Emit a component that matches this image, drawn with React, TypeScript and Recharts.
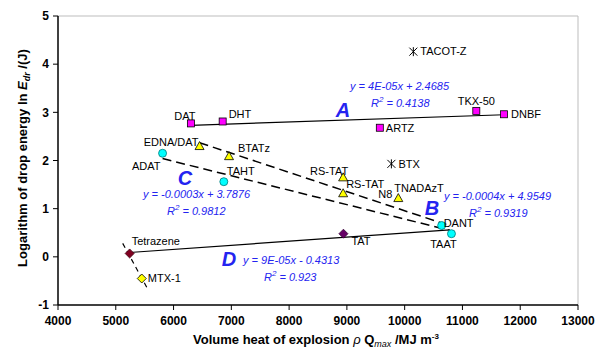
import { Customized, Scatter, ScatterChart, XAxis, YAxis } from "recharts"

// group A (magenta squares)
const squares = [
  { id: "DAT", labels: ["DAT"], x: 6300, y: 2.77 },
  { id: "DHT", labels: ["DHT"], x: 6850, y: 2.81 },
  { id: "ARTZ", labels: ["ARTZ"], x: 9570, y: 2.68 },
  { id: "TKX-50", labels: ["TKX-50"], x: 11240, y: 3.03 },
  { id: "DNBF", labels: ["DNBF"], x: 11720, y: 2.96 },
]

const stars = [
  { id: "TACOT-Z", labels: ["TACOT-Z"], x: 10150, y: 4.26 },
  { id: "BTX", labels: ["BTX"], x: 9770, y: 1.93 },
]

// group B (yellow triangles)
const triangles = [
  { id: "EDNA/DAT", labels: ["EDNA/DAT"], x: 6450, y: 2.3 },
  { id: "BTATz", labels: ["BTATz"], x: 6960, y: 2.09 },
  { id: "RS-TAT-1", labels: ["RS-TAT"], x: 8935, y: 1.65 },
  { id: "RS-TAT-2", labels: ["RS-TAT"], x: 8935, y: 1.32 },
  { id: "TNADAzT", labels: ["TNADAzT", "N8"], x: 9890, y: 1.22 },
]

// group C (cyan circles)
const circles = [
  { id: "ADAT", labels: ["ADAT"], x: 5810, y: 2.15 },
  { id: "TAHT", labels: ["TAHT"], x: 6870, y: 1.56 },
  { id: "DANT", labels: ["DANT"], x: 10640, y: 0.65 },
  { id: "TAAT", labels: ["TAAT"], x: 10810, y: 0.48 },
]

// group D (diamonds)
const tetrazene = [{ id: "Tetrazene", labels: ["Tetrazene"], x: 5240, y: 0.07 }]
const tat = [{ id: "TAT", labels: ["TAT"], x: 8940, y: 0.48 }]
const mtx = [{ id: "MTX-1", labels: ["MTX-1"], x: 5450, y: -0.45 }]

// trend line end points
const trendA = [{ x: 6300, y: 2.73 }, { x: 11720, y: 2.95 }]
const trendB = [{ x: 6450, y: 2.37 }, { x: 10720, y: 0.67 }]
const trendC = [{ x: 5810, y: 2.04 }, { x: 10780, y: 0.55 }]
const trendD = [{ x: 5240, y: 0.09 }, { x: 10780, y: 0.56 }]
const trendE = [{ x: 5120, y: 0.28 }, { x: 5540, y: -0.64 }]

const xTicks = [4000, 5000, 6000, 7000, 8000, 9000, 10000, 11000, 12000, 13000]
const yTicks = [-1, 0, 1, 2, 3, 4, 5]

// label offsets from the marker centre: [dx, dy, anchor]
const labelPos: Record<string, [number, number, string][]> = {
  DAT: [[-6, -7, "middle"]],
  DHT: [[6, -7, "start"]],
  ARTZ: [[6, 0, "start"]],
  "TKX-50": [[0, -10, "middle"]],
  DNBF: [[7, 0, "start"]],
  "TACOT-Z": [[7, 0, "start"]],
  BTX: [[7, 0, "start"]],
  "EDNA/DAT": [[-1, -4, "end"]],
  BTATz: [[9, -8, "start"]],
  "RS-TAT-1": [[-14, -6, "middle"]],
  "RS-TAT-2": [[3, -9, "start"]],
  TNADAzT: [[-4, -10, "start"], [-6, -4, "end"]],
  ADAT: [[-2, 13, "end"]],
  TAHT: [[3, -11, "start"]],
  DANT: [[2, -2, "start"]],
  TAAT: [[-8, 10, "middle"]],
  TAT: [[8, 7, "start"]],
  Tetrazene: [[2, -12, "start"]],
  "MTX-1": [[6, 0, "start"]],
}

const FONT = "'Liberation Sans', Arial, sans-serif"
const BLUE = "#2424F0"

function labelsFor(p: any, cx: number, cy: number) {
  const pos = labelPos[p.id] || []
  return p.labels.map((t: string, i: number) => {
    const [dx, dy, anchor] = pos[i] || [6, 0, "start"]
    return (
      <text
        key={i}
        x={cx + dx}
        y={cy + dy}
        dy="0.35em"
        textAnchor={anchor as any}
        fontSize={11}
        fontFamily={FONT}
        fill="#000"
      >
        {t}
      </text>
    )
  })
}

const squareShape = (props: any) => {
  const { cx, cy, payload } = props
  return (
    <g>
      <rect x={cx - 3.5} y={cy - 3.5} width={7} height={7} fill="#FF00FF" stroke="#000" strokeWidth={0.8} />
      {labelsFor(payload, cx, cy)}
    </g>
  )
}

const starShape = (props: any) => {
  const { cx, cy, payload } = props
  return (
    <g>
      <path
        d={`M${cx},${cy - 4.5}L${cx},${cy + 4.5}M${cx - 4},${cy - 4}L${cx + 4},${cy + 4}M${cx + 4},${cy - 4}L${cx - 4},${cy + 4}`}
        stroke="#000"
        strokeWidth={1}
      />
      {labelsFor(payload, cx, cy)}
    </g>
  )
}

const triangleShape = (props: any) => {
  const { cx, cy, payload } = props
  return (
    <g>
      <path d={`M${cx},${cy - 4.5}L${cx + 4.5},${cy + 3.5}L${cx - 4.5},${cy + 3.5}Z`} fill="#FFFF00" stroke="#000" strokeWidth={0.8} />
      {labelsFor(payload, cx, cy)}
    </g>
  )
}

const circleShape = (props: any) => {
  const { cx, cy, payload } = props
  return (
    <g>
      <circle cx={cx} cy={cy} r={4} fill="#00FFFF" stroke="#007878" strokeWidth={0.8} />
      {labelsFor(payload, cx, cy)}
    </g>
  )
}

const diamondShape = (fill: string, stroke: string) => (props: any) => {
  const { cx, cy, payload } = props
  return (
    <g>
      <path d={`M${cx},${cy - 4.5}L${cx + 4.5},${cy}L${cx},${cy + 4.5}L${cx - 4.5},${cy}Z`} fill={fill} stroke={stroke} strokeWidth={0.8} />
      {labelsFor(payload, cx, cy)}
    </g>
  )
}

const noShape = () => <g />

function R2({ x, y, v }: { x: number; y: number; v: string }) {
  return (
    <text x={x} y={y} fontSize={11} fontStyle="italic" fontFamily={FONT} fill={BLUE}>
      R
      <tspan dy={-5} fontSize={8}>2</tspan>
      <tspan dy={5}>{"  = " + v}</tspan>
    </text>
  )
}

function Annotations() {
  const eq = { fontSize: 11, fontStyle: "italic", fontFamily: FONT, fill: BLUE } as const
  const big = { fontSize: 20, fontStyle: "italic", fontWeight: "bold", fontFamily: FONT, fill: BLUE, textAnchor: "middle" } as const
  return (
    <g>
      <line x1={58} y1={16} x2={578} y2={16} stroke="#BDBDBD" strokeWidth={1} />
      <line x1={578} y1={16} x2={578} y2={305} stroke="#BDBDBD" strokeWidth={1} />

      <text x={343} y={117} {...big}>A</text>
      <text x={432} y={215} {...big}>B</text>
      <text x={185} y={185} {...big}>C</text>
      <text x={229} y={266} {...big}>D</text>

      <text x={350} y={90} {...eq}>y = 4E-05x + 2.4685</text>
      <R2 x={371} y={107} v="0.4138" />
      <text x={143} y={198} {...eq}>y = -0.0003x + 3.7876</text>
      <R2 x={167} y={215} v="0.9812" />
      <text x={444} y={200} {...eq}>y = -0.0004x + 4.9549</text>
      <R2 x={469} y={217} v="0.9319" />
      <text x={243} y={264} {...eq}>y = 9E-05x - 0.4313</text>
      <R2 x={264} y={281} v="0.923" />

      <text
        transform="translate(27,158) rotate(-90)"
        textAnchor="middle"
        fontSize={13}
        fontWeight="bold"
        fontFamily={FONT}
        fill="#000"
      >
        Logarithm of drop energy ln <tspan fontStyle="italic">E</tspan>
        <tspan dy={3} fontSize={9} fontStyle="italic">dr</tspan>
        <tspan dy={-3}>{"  /(J)"}</tspan>
      </text>

      <text x={316} y={344} textAnchor="middle" fontSize={13} fontWeight="bold" fontFamily={FONT} fill="#000">
        Volume heat of explosion <tspan fontStyle="italic" fontWeight="normal">ρ</tspan>
        <tspan> Q</tspan>
        <tspan dy={3} fontSize={9} fontStyle="italic" fontWeight="normal">max</tspan>
        <tspan dy={-3}>{"  /MJ m"}</tspan>
        <tspan dy={-5} fontSize={8}>-3</tspan>
      </text>
    </g>
  )
}

export default function App() {
  const tick = { fontSize: 12, fontWeight: "bold", fill: "#000", fontFamily: FONT }
  return (
    <div style={{ position: "fixed", left: 0, top: 0, background: "#fff" }}>
      <ScatterChart width={595} height={358} margin={{ top: 16, right: 17, bottom: 0, left: 0 }}>
        <XAxis
          type="number"
          dataKey="x"
          domain={[4000, 13000]}
          ticks={xTicks}
          interval={0}
          height={53}
          tick={tick}
          tickSize={5}
          tickMargin={6}
          stroke="#000"
          axisLine={{ stroke: "#000", strokeWidth: 1.5 }}
          tickLine={{ stroke: "#000" }}
        />
        <YAxis
          type="number"
          dataKey="y"
          domain={[-1, 5]}
          ticks={yTicks}
          interval={0}
          width={58}
          tick={tick}
          tickSize={5}
          tickMargin={4}
          stroke="#000"
          axisLine={{ stroke: "#000", strokeWidth: 1.5 }}
          tickLine={{ stroke: "#000" }}
        />
        <Customized component={Annotations} />
        <Scatter data={trendA} line={{ stroke: "#000", strokeWidth: 1.2 }} shape={noShape} isAnimationActive={false} />
        <Scatter data={trendB} line={{ stroke: "#000", strokeWidth: 1.5, strokeDasharray: "9 5" }} shape={noShape} isAnimationActive={false} />
        <Scatter data={trendC} line={{ stroke: "#000", strokeWidth: 1.5, strokeDasharray: "9 5" }} shape={noShape} isAnimationActive={false} />
        <Scatter data={trendD} line={{ stroke: "#000", strokeWidth: 1.2 }} shape={noShape} isAnimationActive={false} />
        <Scatter data={trendE} line={{ stroke: "#000", strokeWidth: 1.2, strokeDasharray: "5 4" }} shape={noShape} isAnimationActive={false} />
        <Scatter data={squares} shape={squareShape} isAnimationActive={false} />
        <Scatter data={stars} shape={starShape} isAnimationActive={false} />
        <Scatter data={triangles} shape={triangleShape} isAnimationActive={false} />
        <Scatter data={circles} shape={circleShape} isAnimationActive={false} />
        <Scatter data={tetrazene} shape={diamondShape("#800020", "#400010")} isAnimationActive={false} />
        <Scatter data={tat} shape={diamondShape("#660066", "#330033")} isAnimationActive={false} />
        <Scatter data={mtx} shape={diamondShape("#FFFF00", "#000")} isAnimationActive={false} />
      </ScatterChart>
    </div>
  )
}
